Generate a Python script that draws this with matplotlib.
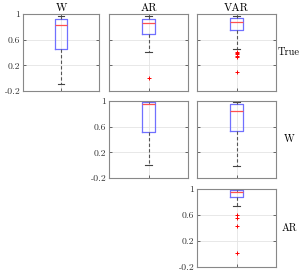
import numpy as np
import matplotlib.pyplot as plt

plt.rcParams['font.family'] = 'cmr10'
plt.rcParams['axes.unicode_minus'] = False

col_titles = ['W', 'AR', 'VAR']
row_labels = ['True', 'W', 'AR']

# (row, col) -> box stats
panels = [(0, 0), (0, 1), (0, 2), (1, 1), (1, 2), (2, 2)]
med = [0.824, 0.855, 0.87, 0.95, 0.84, 0.95]
q1 = [0.45, 0.69, 0.746, 0.51, 0.53, 0.88]
q3 = [0.917, 0.917, 0.93, 0.985, 0.95, 0.98]
whislo = [-0.096, 0.41, 0.45, 0.0, -0.02, 0.74]
whishi = [0.97, 0.97, 0.97, 1.0, 0.98, 1.0]
fliers = [[], [0.01], [0.41, 0.39, 0.37, 0.35, 0.33, 0.096], [], [],
          [0.6, 0.555, 0.435, 0.02]]

yticks = [-0.2, 0.2, 0.6, 1]
ytick_labels = ['-0.2', '0.2', '0.6', '1']

W, H = 301, 272
col_x = [(23, 99), (109, 188), (197, 276)]
row_y = [(14, 91), (101, 178), (189, 267)]

fig = plt.figure(figsize=(W / 100, H / 100), dpi=100)

for i, (r, c) in enumerate(panels):
    x0, x1 = col_x[c]
    y0, y1 = row_y[r]
    ax = fig.add_axes([x0 / W, 1 - y1 / H, (x1 - x0) / W, (y1 - y0) / H])
    st = [dict(med=med[i], q1=q1[i], q3=q3[i], whislo=whislo[i],
               whishi=whishi[i], fliers=fliers[i])]
    ax.bxp(st, positions=[1], widths=0.17, capwidths=0.08,
           boxprops=dict(color='#7070ff', lw=0.9),
           medianprops=dict(color='#ff5050', lw=0.9),
           whiskerprops=dict(color='#555555', lw=0.8, ls=(0, (3, 2))),
           capprops=dict(color='#444444', lw=0.8),
           flierprops=dict(marker='+', markeredgecolor='red', markersize=3,
                           markeredgewidth=0.7, ls='none'))
    ax.set_xlim(0.5, 1.5)
    ax.set_ylim(-0.2, 1)
    ax.set_xticks([1])
    ax.set_xticklabels([])
    ax.set_yticks(yticks)
    if c == r:
        ax.set_yticklabels(ytick_labels)
    else:
        ax.set_yticklabels([])
    ax.tick_params(direction='in', length=2, width=0.5, labelsize=7,
                   pad=2, top=True, right=True, colors='#333333')
    ax.grid(True, color='#e4e4e4', lw=0.6)
    ax.set_axisbelow(True)
    for s in ax.spines.values():
        s.set_color('#888888')
        s.set_linewidth(0.8)
    if r == 0:
        ax.set_title(col_titles[c], fontsize=8, pad=2)
    if c == 2:
        ax.text(289 / W, 1 - (y0 + y1) / 2 / H, row_labels[r],
                transform=fig.transFigure, fontsize=7.5,
                va='center', ha='center')

fig.savefig('out.png', dpi=100)
